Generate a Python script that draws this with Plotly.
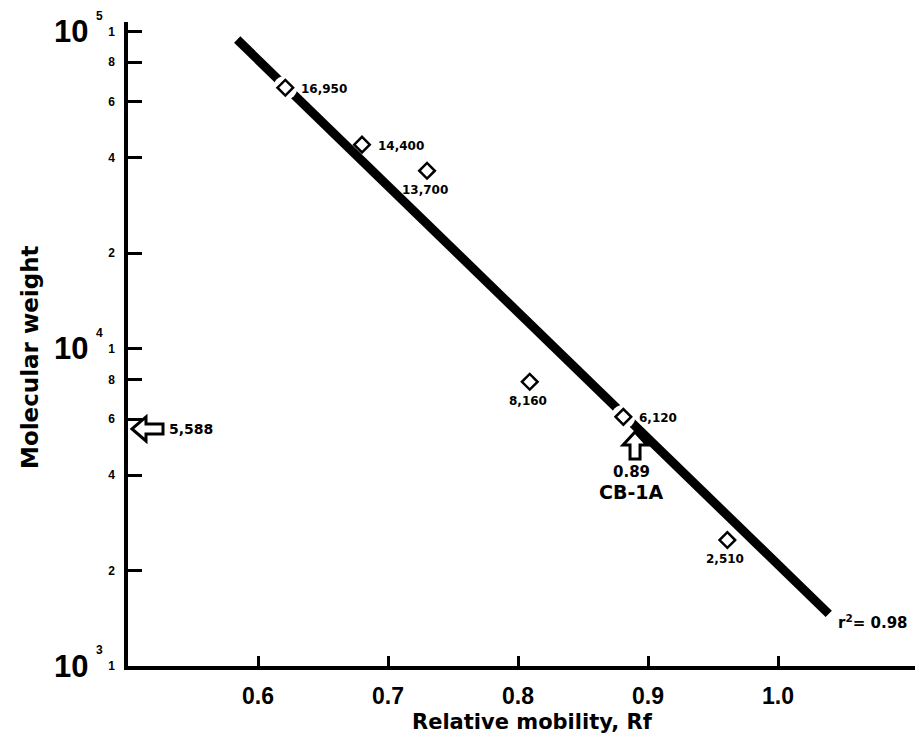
import math
import plotly.graph_objects as go

# ---- data ----
std_rf = [0.621, 0.680, 0.730, 0.809, 0.881, 0.961]
std_mw = [66500, 44000, 36400, 7870, 6100, 2495]
std_labels = ["16,950", "14,400", "13,700", "8,160", "6,120", "2,510"]
std_label_pos = ["right", "right", "below", "below", "right", "below"]
gap_rf = [0.621, 0.881]          # standards sitting on the fitted line
gap_mw = [66500, 6100]

fit_rf = [0.584, 1.039]
fit_mw = [94300, 1460]

unknown_rf = 0.89
unknown_mw = 5588
unknown_name = "CB-1A"
r2_text = "r<sup>2</sup>= 0.98"

x_ticks = [0.6, 0.7, 0.8, 0.9, 1.0]
x_ticktext = ["0.6", "0.7", "0.8", "0.9", "1.0"]
y_ticks = [1000, 2000, 4000, 6000, 8000, 10000, 20000, 40000, 60000, 80000, 100000]
y_ticktext = ["1", "2", "4", "6", "8", "1", "2", "4", "6", "8", "1"]
decades = [1000, 10000, 100000]
decade_exp = ["3", "4", "5"]

FONT = "Liberation Sans"
WIDE = "DejaVu Sans"
L = math.log10

fig = go.Figure()
fig.add_trace(go.Scatter(x=fit_rf, y=fit_mw, mode="lines",
                         line=dict(color="black", width=9), hoverinfo="skip"))
fig.add_trace(go.Scatter(x=gap_rf, y=gap_mw, mode="markers",
                         marker=dict(symbol="circle", size=24, color="white"),
                         hoverinfo="skip"))
fig.add_trace(go.Scatter(x=std_rf, y=std_mw, mode="markers",
                         marker=dict(symbol="diamond", size=12, color="white",
                                     line=dict(color="black", width=2.5))))

ann = []
for rx, my, t, p in zip(std_rf, std_mw, std_labels, std_label_pos):
    if p == "right":
        ann.append(dict(x=rx, y=L(my), xref="x", yref="y", text="<b>%s</b>" % t,
                        showarrow=False, xanchor="left", xshift=14, yshift=-1,
                        font=dict(family=WIDE, size=12, color="black")))
    else:
        ann.append(dict(x=rx, y=L(my), xref="x", yref="y", text="<b>%s</b>" % t,
                        showarrow=False, yanchor="middle", yshift=-19, xshift=-2,
                        font=dict(family=WIDE, size=12, color="black")))

for d, e in zip(decades, decade_exp):
    ann.append(dict(x=0, y=L(d), xref="paper", yref="y", text="<b>10</b>",
                    showarrow=False, xanchor="right", yanchor="middle",
                    xshift=-38, yshift=0,
                    font=dict(family=FONT, size=31, color="black")))
    ann.append(dict(x=0, y=L(d), xref="paper", yref="y", text="<b>%s</b>" % e,
                    showarrow=False, xanchor="left", yanchor="middle",
                    xshift=-34, yshift=16,
                    font=dict(family=FONT, size=12, color="black")))

# value labels for the unknown
ann.append(dict(x=0.5, y=L(unknown_mw), xref="x", yref="y",
                text="<b>%s</b>" % f"{unknown_mw:,}",
                showarrow=False, xanchor="left", xshift=39,
                font=dict(family=WIDE, size=14, color="black")))
ann.append(dict(x=unknown_rf, y=L(unknown_mw), xref="x", yref="y",
                text="<b>%s</b>" % f"{unknown_rf:.2f}",
                showarrow=False, yanchor="middle", xshift=-4, yshift=-43,
                font=dict(family=WIDE, size=15, color="black")))
ann.append(dict(x=unknown_rf, y=L(unknown_mw), xref="x", yref="y",
                text="<b>%s</b>" % unknown_name,
                showarrow=False, yanchor="middle", xshift=-4, yshift=-63,
                font=dict(family=WIDE, size=19, color="black")))
# r^2
ann.append(dict(x=fit_rf[1], y=L(fit_mw[1]), xref="x", yref="y", text="<b>%s</b>" % r2_text,
                showarrow=False, xanchor="left", xshift=7, yshift=-8,
                font=dict(family=WIDE, size=15, color="black")))
# axis titles
ann.append(dict(x=0.5, y=0, xref="paper", yref="paper",
                text="<b>Relative mobility, Rf</b>", showarrow=False,
                yanchor="middle", yshift=-56, xshift=7,
                font=dict(family=WIDE, size=21, color="black")))
ann.append(dict(x=0, y=0.5, xref="paper", yref="paper",
                text="<b>Molecular weight</b>", showarrow=False, textangle=-90,
                xanchor="center", yanchor="middle", xshift=-98, yshift=-13,
                font=dict(family=WIDE, size=23, color="black")))

# hollow block arrows, sized in pixels and anchored at the unknown's data point
up_arrow = "M0,-3 L12,-16 L5,-16 L5,-30 L-5,-30 L-5,-16 L-12,-16 Z"
left_arrow = "M4,0 L18,12 L18,5 L35,5 L35,-5 L18,-5 L18,-12 Z"
shapes = [
    dict(type="path", xref="x", yref="y", xsizemode="pixel", ysizemode="pixel",
         xanchor=unknown_rf, yanchor=unknown_mw, path=up_arrow,
         line=dict(color="black", width=3), fillcolor="white", layer="above"),
    dict(type="path", xref="x", yref="y", xsizemode="pixel", ysizemode="pixel",
         xanchor=0.5, yanchor=unknown_mw, path=left_arrow,
         line=dict(color="black", width=3), fillcolor="white", layer="above"),
]

fig.update_layout(
    width=915, height=738,
    margin=dict(l=120, r=0, t=14, b=80),
    paper_bgcolor="white", plot_bgcolor="white",
    showlegend=False,
    annotations=ann,
    shapes=shapes,
    xaxis=dict(range=[0.5, 1.1115], tickvals=x_ticks,
               ticktext=["<b>%s</b>" % t for t in x_ticktext],
               ticks="inside", ticklen=10, tickwidth=2.5, tickcolor="black",
               showline=True, linecolor="black", linewidth=4,
               showgrid=False, zeroline=False, ticklabelstandoff=6,
               tickfont=dict(family=FONT, size=23, color="black")),
    yaxis=dict(type="log", range=[3, 5.03], tickvals=y_ticks,
               ticktext=["<b>%s</b>" % t for t in y_ticktext],
               ticks="inside", ticklen=14, tickwidth=3, tickcolor="black",
               showline=True, linecolor="black", linewidth=3.5,
               showgrid=False, zeroline=False, ticklabelstandoff=7,
               tickfont=dict(family=FONT, size=12, color="black")),
)

fig.write_html("out.html")
